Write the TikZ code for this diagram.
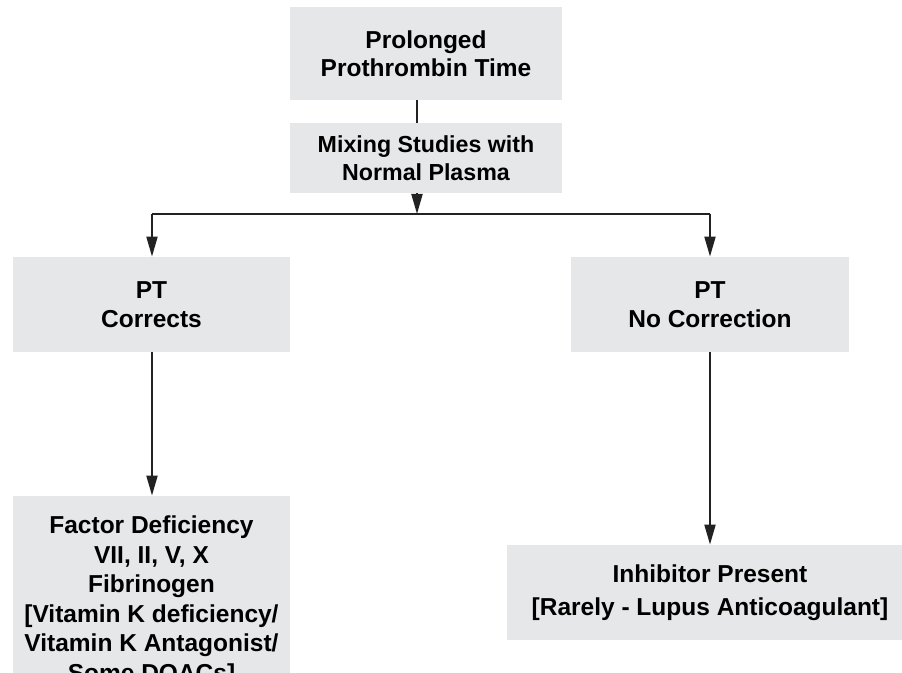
\documentclass[tikz,border=0pt]{standalone}
\usepackage{fontspec}
\setmainfont{Liberation Sans}
\usetikzlibrary{arrows.meta}
\definecolor{boxgray}{HTML}{E6E7E8}
\definecolor{linegray}{HTML}{222222}
\begin{document}
\begin{tikzpicture}[x=0.5pt,y=-0.5pt,
  box/.style={fill=boxgray, draw=none, inner sep=0pt, align=center,
    font=\bfseries\fontsize{12.25pt}{14pt}\selectfont, text=black},
  conn/.style={draw=linegray, line width=1pt},
  arr/.style={conn, -{Triangle[length=10pt,width=5.5pt]}}]
\useasboundingbox (0,0) rectangle (902,673);
\clip (0,0) rectangle (902,673);
\node[box, minimum width=136pt, minimum height=46.5pt] (top) at (426,53.5)
  {Prolonged\\Prothrombin Time};
\node[box, minimum width=136pt, minimum height=35pt,
  font=\bfseries\fontsize{11.6pt}{14pt}\selectfont] (mix) at (426,158)
  {Mixing Studies with\\Normal Plasma};
\node[box, minimum width=138.5pt, minimum height=47.5pt,
  font=\bfseries\fontsize{12.25pt}{14.5pt}\selectfont] (ptl) at (151.5,304.5)
  {PT\\Corrects};
\node[box, minimum width=139pt, minimum height=47.5pt,
  font=\bfseries\fontsize{12.25pt}{14.5pt}\selectfont] (ptr) at (710,304.5)
  {PT\\No Correction};
\node[box, minimum width=138.5pt, minimum height=105pt,
  font=\bfseries\fontsize{12.25pt}{14.75pt}\selectfont] (fac) at (151.5,601)
  {Factor Deficiency\\VII, II, V, X\\Fibrinogen\\{[}Vitamin K deficiency/\\Vitamin K Antagonist/\\Some DOACs{]}};
\node[box, minimum width=197.5pt, minimum height=47.5pt,
  font=\bfseries\fontsize{12.25pt}{16.5pt}\selectfont] (inh) at (704.5,592.5)
  {\hspace*{5.5pt}\begin{tabular}{@{}c@{}}Inhibitor Present\\{[}Rarely - Lupus Anticoagulant{]}\end{tabular}};
\coordinate (j) at (417,214);
\coordinate (jl) at (152,214);
\coordinate (jr) at (710,214);
\draw[conn] (top.south -| j) -- (mix.north -| j);
\draw[arr] (mix.south -| j) -- (j);
\draw[conn] (jl) -- (jr);
\draw[arr] (jl) -- (jl |- ptl.north);
\draw[arr] (jr) -- (jr |- ptr.north);
\draw[arr] (jl |- ptl.south) -- (jl |- fac.north);
\draw[arr] (ptr.south) -- (ptr.south |- inh.north);
\end{tikzpicture}
\end{document}
